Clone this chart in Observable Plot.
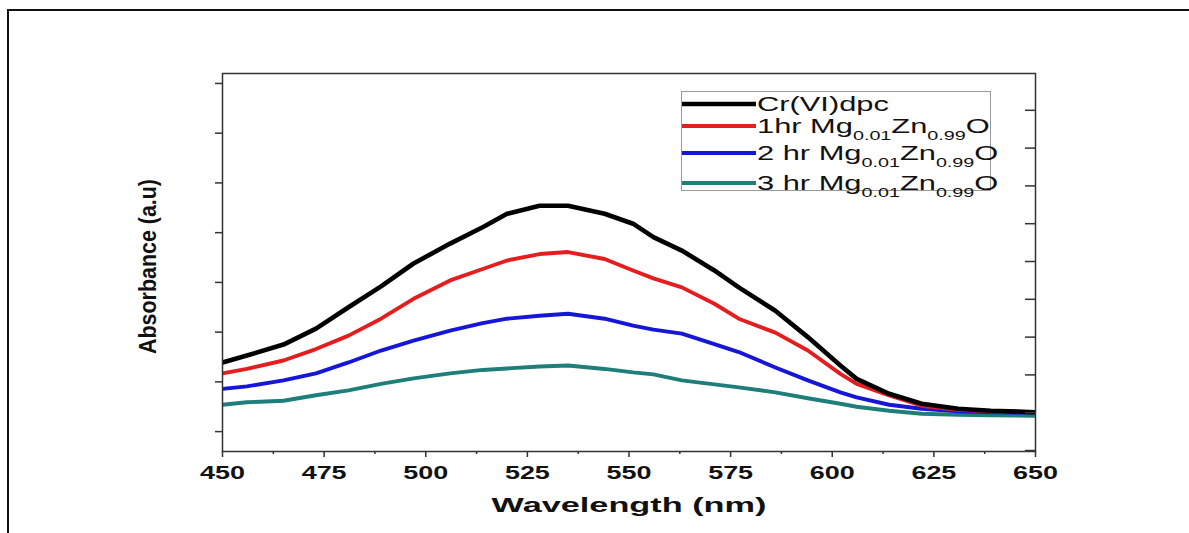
<!DOCTYPE html>
<html><head><meta charset="utf-8">
<script src="https://cdn.jsdelivr.net/npm/d3@7"></script>
<script src="https://cdn.jsdelivr.net/npm/@observablehq/plot@0.6"></script>
<style>
html,body{margin:0;padding:0;background:#fff;overflow:hidden;width:1189px;height:533px;}
#wrap{position:relative;width:1189px;height:533px;overflow:hidden;}
#border{position:absolute;left:7px;top:9px;width:1300px;height:700px;border-left:2px solid #111;border-top:2px solid #111;}
#chart{position:absolute;left:0;top:0;}
#legend{position:absolute;left:681px;top:91px;width:308px;height:98px;border:1px solid #9a9a9a;background:#fff;font-family:"Liberation Sans",Arial,sans-serif;}
.row{position:absolute;left:0;height:20px;display:flex;align-items:center;white-space:nowrap;}
.row svg{display:block;flex:none;}
.lab{display:inline-block;transform:scaleX(1.58);transform-origin:left center;font-size:19.5px;color:#111;margin-left:1px;line-height:20px;}
.lab sub{font-size:12.5px;vertical-align:-7px;line-height:0;}
</style></head>
<body>
<div id="wrap">
  <div id="border"></div>
  <div id="chart"></div>
  <div id="legend"></div>
</div>
<script>
// ---- data ----
const wavelength = [450,456,465,473,481,489,497,506,514,520,528,535,544,551,556,563,571,577,586,594,602,606,614,622,631,639,650];
const crVIdpc = [0.339,0.353,0.375,0.407,0.450,0.492,0.538,0.578,0.611,0.638,0.654,0.654,0.638,0.618,0.591,0.564,0.524,0.490,0.443,0.390,0.333,0.306,0.276,0.256,0.246,0.242,0.239];
const mg1hr   = [0.317,0.326,0.343,0.366,0.393,0.427,0.467,0.504,0.527,0.544,0.557,0.561,0.547,0.524,0.508,0.490,0.457,0.427,0.399,0.363,0.316,0.296,0.273,0.252,0.244,0.241,0.239];
const mg2hr   = [0.286,0.291,0.303,0.317,0.339,0.363,0.383,0.403,0.418,0.427,0.433,0.437,0.427,0.413,0.405,0.397,0.376,0.360,0.329,0.303,0.279,0.269,0.254,0.246,0.241,0.239,0.238];
const mg3hr   = [0.254,0.259,0.262,0.273,0.283,0.296,0.307,0.317,0.324,0.327,0.331,0.333,0.326,0.319,0.315,0.303,0.295,0.289,0.279,0.267,0.256,0.250,0.242,0.236,0.234,0.233,0.232];

const seriesPrefix = ["Cr(VI)dpc", "1hr", "2 hr", "3 hr"];
const seriesFormula = [null, ["Mg","0.01","Zn","0.99","O"], ["Mg","0.01","Zn","0.99","O"], ["Mg","0.01","Zn","0.99","O"]];
const seriesColors = ["#000000", "#e41e1f", "#1616d8", "#1e7f7a"];
const seriesValues = [crVIdpc, mg1hr, mg2hr, mg3hr];

const xTicks = [450,475,500,525,550,575,600,625,650];
const xMinorTicks = [462.5,487.5,512.5,537.5,562.5,587.5,612.5,637.5];
const yTicksLeft = [0.2,0.3,0.4,0.5,0.6,0.7,0.8,0.9];
const yTicksRight = [0.162,0.238,0.314,0.390,0.466,0.542,0.618,0.694,0.770,0.846];
const xLabel = "Wavelength (nm)";
const yLabel = "Absorbance (a.u)";

// ---- build ----
const tables = seriesValues.map((vals, i) => wavelength.map((w, j) => ({wl: w, v: vals[j], s: i})));
const drawOrder = [3, 2, 1, 0];

const svg = Plot.plot({
  width: 1189, height: 533,
  marginLeft: 222, marginRight: 154, marginTop: 73, marginBottom: 82,
  style: {fontFamily: "'Liberation Sans', Arial, sans-serif", background: "transparent", color: "#222"},
  x: {domain: [450, 650]},
  y: {domain: [0.16, 0.92]},
  marks: [
    ...drawOrder.map(i => Plot.line(tables[i], {x: "wl", y: "v", stroke: seriesColors[i], strokeWidth: i === 0 ? 4.6 : 3.9, strokeLinejoin: "round", strokeLinecap: "butt"})),
    Plot.frame({stroke: "#333", strokeWidth: 1.5}),
    Plot.axisX({ticks: xTicks, tickSize: 6, tickPadding: 8, tickFormat: d => String(d), label: null, stroke: "#333", strokeWidth: 1.5, fill: "#111", fontSize: 18.5, fontWeight: "bold"}),
    Plot.axisX({ticks: xMinorTicks, tickSize: 3, fill: "none", label: null, stroke: "#333", strokeWidth: 1.5}),
    Plot.axisY({ticks: yTicksLeft, anchor: "left", tickSize: 7, fill: "none", label: null, stroke: "#333", strokeWidth: 1.5}),
    Plot.axisY({ticks: yTicksRight, anchor: "right", tickSize: -11, fill: "none", label: null, stroke: "#333", strokeWidth: 1.5}),
    Plot.text([xLabel], {frameAnchor: "bottom", textAnchor: "middle", dy: 60, fontSize: 21, fontWeight: "bold", fill: "#111"}),
    Plot.text([yLabel], {frameAnchor: "left", textAnchor: "middle", dx: -74, dy: 4, rotate: -90, fontSize: 23, fontWeight: "bold", fill: "#111"})
  ]
});
document.getElementById("chart").append(svg);

// along-text stretch of each text about its own centre
svg.querySelectorAll("text").forEach(t => {
  const s = t.textContent.trim();
  if (!s) return;
  const b = t.getBBox();
  if (!b.width) return;
  let f = null;
  if (s === xLabel) f = 275 / b.width;
  else if (s === yLabel) f = 175 / b.width;
  else if (/^\d+$/.test(s)) f = 45 / b.width;
  if (!f) return;
  const cx = b.x + b.width / 2;
  const prev = t.getAttribute("transform") || "";
  t.setAttribute("transform", `${prev} translate(${cx},0) scale(${f},1) translate(${-cx},0)`.trim());
});

// ---- legend ----
const legend = document.getElementById("legend");
const rowCenters = [11.5, 34, 60.5, 91];
seriesPrefix.forEach((p, i) => {
  const row = document.createElement("div");
  row.className = "row";
  row.style.top = (rowCenters[i] - 10) + "px";
  const sw = i === 0 ? 4.5 : 4;
  row.innerHTML = `<svg width="74" height="8"><line x1="0" x2="74" y1="4" y2="4" stroke="${seriesColors[i]}" stroke-width="${sw}" stroke-linecap="round"/></svg>`;
  const lab = document.createElement("span");
  lab.className = "lab";
  let html = p;
  const f = seriesFormula[i];
  if (f) html += ` ${f[0]}<sub>${f[1]}</sub>${f[2]}<sub>${f[3]}</sub>${f[4]}`;
  lab.innerHTML = html;
  row.append(lab);
  legend.append(row);
});
</script>
</body></html>
